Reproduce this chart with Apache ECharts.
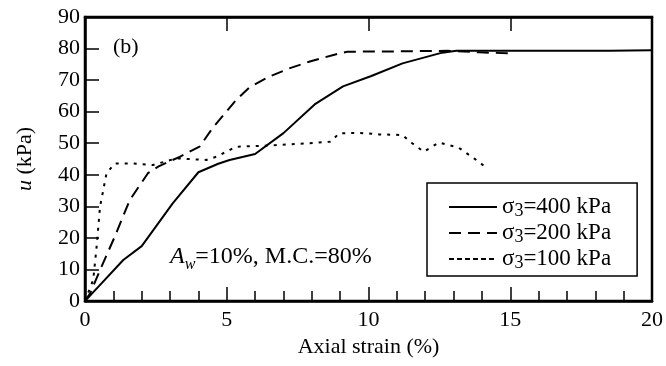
<!DOCTYPE html>
<html>
<head>
<meta charset="utf-8">
<script src="https://cdn.jsdelivr.net/npm/echarts@6/dist/echarts.min.js"></script>
<style>
  html, body { margin: 0; padding: 0; background: #fff; }
  #chart { width: 666px; height: 366px; }
</style>
</head>
<body>
<div id="chart"></div>
<script>
// axial strain (%) / pore pressure u (kPa)
const strain400 = [0, 0.5, 1.35, 2.0, 3.1, 4.0, 4.7, 5.1, 6.0, 7.0, 8.1, 9.1, 10.1, 11.2, 12.6, 13.1, 18.5, 20]
const u400 = [0, 4.8, 13, 17.4, 31, 40.8, 43.5, 44.7, 46.6, 53.2, 62.3, 68, 71.3, 75.3, 78.7, 79.3, 79.3, 79.5]

const strain200 = [0, 0.18, 0.53, 1.05, 1.58, 2.22, 2.58, 3.34, 4.04, 4.5, 5.33, 5.8, 6.5, 7.2, 7.9, 8.73, 9.25, 11, 12.8, 13.9, 14.95]
const u200 = [0, 2.4, 9.8, 20.4, 32, 40.5, 42.6, 45.7, 48.9, 54.8, 63.7, 67.7, 71.1, 73.7, 75.8, 77.9, 79, 79.1, 79.3, 78.8, 78.5]

const strain100 = [0, 0.29, 0.41, 0.53, 0.76, 1.05, 1.7, 2.4, 3.22, 4.28, 4.63, 5.33, 6.03, 6.74, 7.9, 8.67, 8.96, 9.67, 10.37, 11.19, 11.54, 11.95, 12.48, 13.18, 13.77, 14.12]
const u100 = [0, 6.7, 17.2, 29.9, 40.5, 43.6, 43.6, 43.1, 45.2, 44.7, 45.7, 48.9, 49.1, 49.4, 50, 50.5, 53.1, 53.3, 52.8, 52.6, 50, 47.3, 50.2, 48.6, 44.9, 42.5]

const seriesNames = ['σ3=400 kPa', 'σ3=200 kPa', 'σ3=100 kPa']
const legendParts = { 'σ3=400 kPa': '=400 kPa', 'σ3=200 kPa': '=200 kPa', 'σ3=100 kPa': '=100 kPa' }

const FONT = 'Liberation Serif'
const zip = (xs, ys) => xs.map((x, i) => [x, ys[i]])

const chart = echarts.init(document.getElementById('chart'))

const tickStyle = { color: '#000', width: 1.5 }
const lineColor = { color: '#000', width: 2.5 }

const option = {
  animation: false,
  backgroundColor: '#fff',
  textStyle: { fontFamily: FONT, color: '#000' },
  // grid border closes the frame on the right
  grid: { left: 85, right: 12, top: 17, bottom: 65, show: true, borderColor: '#000', borderWidth: 2.5, backgroundColor: 'transparent' },
  xAxis: [
    {
      type: 'value', min: 0, max: 20, interval: 5, position: 'bottom',
      axisLine: { show: true, lineStyle: lineColor },
      splitLine: { show: false },
      axisTick: { show: true, inside: true, length: 14, lineStyle: tickStyle },
      minorTick: { show: true, splitNumber: 5, length: 10, lineStyle: tickStyle },
      axisLabel: { margin: 8, fontFamily: FONT, fontSize: 22, color: '#000' },
      name: 'Axial strain (%)', nameLocation: 'middle', nameGap: 28,
      nameTextStyle: { fontFamily: FONT, fontSize: 22, color: '#000' },
    },
    {
      type: 'value', min: 0, max: 20, interval: 5, position: 'top',
      axisLine: { show: true, lineStyle: lineColor },
      splitLine: { show: false },
      axisTick: { show: true, inside: true, length: 14, lineStyle: tickStyle },
      axisLabel: { show: false },
    },
  ],
  yAxis: [
    {
      type: 'value', min: 0, max: 90, interval: 10, position: 'left',
      axisLine: { show: true, lineStyle: lineColor },
      splitLine: { show: false },
      axisTick: { show: true, inside: true, length: 14, lineStyle: tickStyle },
      axisLabel: { margin: 5, fontFamily: FONT, fontSize: 22, color: '#000' },
      name: '{i|u} (kPa)', nameLocation: 'middle', nameGap: 49,
      nameTextStyle: {
        fontFamily: FONT, fontSize: 22, color: '#000',
        rich: { i: { fontFamily: FONT, fontSize: 22, fontStyle: 'italic', color: '#000' } },
      },
    },
  ],
  legend: {
    left: 427, top: 183,
    orient: 'vertical',
    data: [
      { name: seriesNames[0] },
      { name: seriesNames[1] },
      { name: seriesNames[2], lineStyle: { type: [5, 3] } },
    ],
    backgroundColor: '#fff',
    borderColor: '#000', borderWidth: 1.5, borderRadius: 0,
    padding: [12, 26, 4, 21],
    itemWidth: 48, itemHeight: 14, itemGap: 1,
    itemStyle: { color: 'transparent', borderColor: 'transparent', borderWidth: 0 },
    formatter: name => '{s|σ}{sub|3}{n|' + legendParts[name] + '}',
    textStyle: {
      fontFamily: FONT, fontSize: 23, color: '#000',
      rich: {
        s: { fontFamily: FONT, fontSize: 23, lineHeight: 24, verticalAlign: 'top', color: '#000' },
        sub: { fontFamily: FONT, fontSize: 18, lineHeight: 18, verticalAlign: 'top', padding: [7, 0, 0, 0], color: '#000' },
        n: { fontFamily: FONT, fontSize: 23, lineHeight: 24, verticalAlign: 'top', color: '#000' },
      },
    },
  },
  graphic: [
    {
      type: 'text', left: 113, top: 36,
      style: { text: '(b)', font: '22px "Liberation Serif"', fill: '#000' },
    },
    {
      type: 'text', left: 170, top: 245,
      style: {
        text: '{i|A}{w|w}{n|=10%, M.C.=80%}',
        fill: '#000',
        rich: {
          i: { fontFamily: FONT, fontSize: 24, lineHeight: 26, verticalAlign: 'top', fontStyle: 'italic', color: '#000' },
          w: { fontFamily: FONT, fontSize: 16, lineHeight: 16, verticalAlign: 'top', padding: [12, 0, 0, 0], fontStyle: 'italic', color: '#000' },
          n: { fontFamily: FONT, fontSize: 24, lineHeight: 26, verticalAlign: 'top', color: '#000' },
        },
      },
    },
  ],
  series: [
    {
      name: seriesNames[0], type: 'line', symbol: 'none',
      data: zip(strain400, u400),
      lineStyle: { color: '#000', width: 2, type: 'solid' },
      itemStyle: { color: '#000' },
    },
    {
      name: seriesNames[1], type: 'line', symbol: 'none',
      data: zip(strain200, u200),
      lineStyle: { color: '#000', width: 2, type: [12, 7] },
      itemStyle: { color: '#000' },
    },
    {
      name: seriesNames[2], type: 'line', symbol: 'none',
      data: zip(strain100, u100),
      lineStyle: { color: '#000', width: 2, type: [3, 6] },
      itemStyle: { color: '#000' },
    },
  ],
}

chart.setOption(option)
</script>
</body>
</html>
